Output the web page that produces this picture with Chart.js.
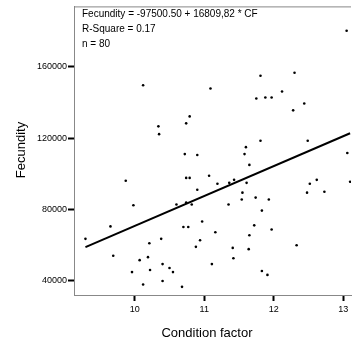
<!DOCTYPE html>
<html>
<head>
<meta charset="utf-8">
<script src="https://cdn.jsdelivr.net/npm/chart.js@4.4.1/dist/chart.umd.min.js"></script>
<style>
  body { margin: 0; background: #fff; }
  #wrap { width: 355px; height: 347px; }
</style>
</head>
<body>
<div id="wrap"><canvas id="chart" width="355" height="347"></canvas></div>
<script>
// condition factor (x) and fecundity (y)
const conditionFactor = [
  10.12, 11.09, 10.79, 10.74, 10.34, 10.35, 10.72, 10.90,
  11.81, 12.30, 11.75, 11.88, 11.97, 12.12, 12.44, 12.28, 11.81, 12.49, 11.60, 11.58, 11.65, 13.06,
  13.05,
  9.87, 10.74, 10.79, 11.07, 10.90, 9.98, 10.60, 10.74, 10.82, 9.65, 10.70, 10.77, 10.97,
  9.29, 10.38, 10.94, 10.21, 10.88, 9.69, 10.07, 10.19, 11.11, 10.40, 10.50, 9.96, 10.22, 10.55,
  10.12, 10.40, 10.68,
  11.19, 11.36, 11.43, 11.61, 11.55, 11.54, 11.74, 11.93, 11.35, 11.83, 12.48, 12.52, 12.62, 12.73,
  13.10, 11.16, 11.72, 11.97, 11.65, 11.41, 11.64, 11.42, 12.33, 11.83, 11.91
];
const fecundity = [
  149700, 147900, 132200, 128300, 126600, 122200, 111000, 110500,
  155100, 156800, 142300, 142800, 142800, 146200, 139500, 135600, 118500, 118500, 114900, 111000, 104900, 111600,
  180400,
  96000, 97600, 97600, 98800, 90900, 82200, 82600, 83700, 82600, 70300, 70000, 70000, 73100,
  63300, 63300, 62500, 60800, 58800, 53800, 51300, 53000, 49100, 49100, 46900, 44600, 45800, 44600,
  37600, 39600, 36300,
  94300, 94800, 96500, 94800, 89300, 85400, 86500, 85400, 82600, 79200, 89300, 94300, 96500, 89800,
  95400, 67000, 70900, 68600, 65300, 58200, 57500, 52400, 59700, 45200, 43000
];

// fit line from the printed equation
const intercept = -97500.50;
const slope = 16809.82;

const xTicks = [10, 11, 12, 13];
const yTicks = [40000, 80000, 120000, 160000];

const fitLines = [
  'Fecundity = -97500.50 + 16809,82 * CF',
  'R-Square = 0.17',
  'n = 80'
];

var points = conditionFactor.map(function(x, i) { return { x: x, y: fecundity[i] }; });
var xLo = Math.min.apply(null, conditionFactor);
var xHi = Math.max.apply(null, conditionFactor);
var fitPoints = [
  { x: xLo, y: intercept + slope * xLo },
  { x: xHi, y: intercept + slope * xHi }
];

var FONT = "'Liberation Sans', Arial, sans-serif";

// top frame line, equation text and axis titles
const extras = {
  id: 'extras',
  afterDraw: function(chart) {
    var ctx = chart.ctx;
    var a = chart.chartArea;
    ctx.save();
    ctx.strokeStyle = '#888';
    ctx.lineWidth = 1;
    ctx.beginPath();
    ctx.moveTo(a.left, a.top + 0.5);
    ctx.lineTo(a.right, a.top + 0.5);
    ctx.stroke();

    ctx.fillStyle = '#000';
    ctx.font = '10px ' + FONT;
    ctx.textAlign = 'left';
    ctx.textBaseline = 'alphabetic';
    fitLines.forEach(function(t, i) {
      ctx.fillText(t, 82, 17 + i * 14.8);
    });

    ctx.font = '13px ' + FONT;
    ctx.textAlign = 'center';
    ctx.textBaseline = 'middle';
    ctx.fillText('Condition factor', 207, 333);

    ctx.translate(21, 150);
    ctx.rotate(-Math.PI / 2);
    ctx.fillText('Fecundity', 0, 0);
    ctx.restore();
  }
};

new Chart(document.getElementById('chart'), {
  type: 'scatter',
  data: {
    datasets: [
      {
        data: points,
        backgroundColor: '#000',
        borderColor: '#000',
        pointRadius: 1.3,
        pointBorderWidth: 0
      },
      {
        type: 'line',
        data: fitPoints,
        borderColor: '#000',
        borderWidth: 2,
        pointRadius: 0,
        fill: false
      }
    ]
  },
  options: {
    responsive: false,
    animation: false,
    layout: { padding: { top: 4, right: 0, bottom: 0, left: 0 } },
    plugins: { legend: { display: false }, tooltip: { enabled: false } },
    scales: {
      x: {
        type: 'linear',
        min: 9.125,
        max: 13.113,
        afterBuildTicks: function(s) { s.ticks = xTicks.map(function(v) { return { value: v }; }); },
        afterFit: function(s) { s.height = 52; },
        grid: { drawOnChartArea: false, drawTicks: true, tickLength: 6, tickWidth: 2, tickColor: '#000' },
        border: { display: true, color: '#888', width: 1 },
        ticks: { padding: 3, color: '#000', font: { family: FONT, size: 9 }, callback: function(v) { return String(v); } }
      },
      y: {
        type: 'linear',
        min: 31700,
        max: 194100,
        afterBuildTicks: function(s) { s.ticks = yTicks.map(function(v) { return { value: v }; }); },
        afterFit: function(s) { s.width = 74; },
        grid: { drawOnChartArea: false, drawTicks: true, tickLength: 6, tickWidth: 2, tickColor: '#000' },
        border: { display: true, color: '#888', width: 1 },
        ticks: { padding: 1, color: '#000', font: { family: FONT, size: 9 }, callback: function(v) { return String(v); } }
      }
    }
  },
  plugins: [extras]
});
</script>
</body>
</html>
